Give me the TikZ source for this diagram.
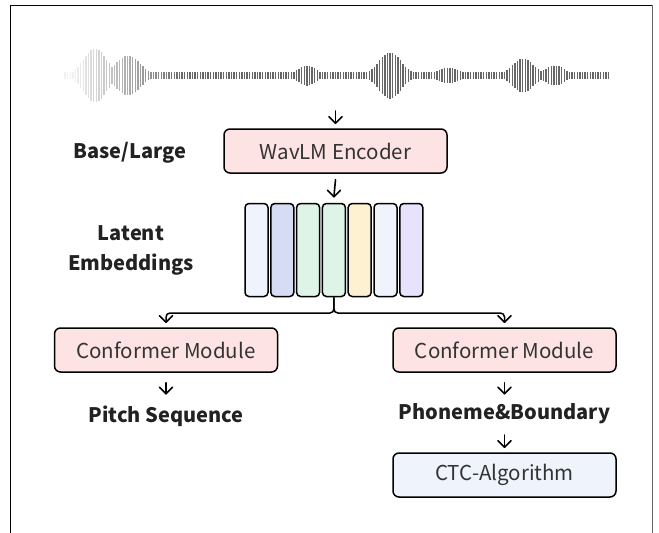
\documentclass[tikz,border=0pt]{standalone}
\usepackage{fontspec}
\setmainfont{Noto Sans CJK SC}
\usetikzlibrary{calc,positioning}
\definecolor{pinkfill}{HTML}{FDE3E3}
\definecolor{bluefill}{HTML}{EEF3FC}
\definecolor{barb}{HTML}{D6DCF4}
\definecolor{barg}{HTML}{DDF4E6}
\definecolor{bary}{HTML}{FEF1D1}
\definecolor{barp}{HTML}{E9E2FC}
\definecolor{txt}{HTML}{333333}
\definecolor{btxt}{HTML}{222222}
\definecolor{wave}{HTML}{404040}
\tikzset{
  box/.style={draw=black, line width=1.5pt, rounded corners=6pt, minimum width=223pt, minimum height=44pt, inner sep=0pt, font=\fontsize{20.5}{24}\selectfont, text=txt},
  bar/.style={draw=black, line width=1.5pt, rounded corners=4pt, minimum width=23pt, minimum height=93pt, inner sep=0pt},
  lbl/.style={font=\bfseries\fontsize{20}{30}\selectfont, text=btxt, align=center},
  shaft/.style={line width=1.6pt, line cap=round, line join=round},
  conn/.style={line width=1.5pt, rounded corners=4pt},
  frame/.style={line width=1pt}
}
\newcommand\vhead[1]{\draw[shaft] ($(#1)+(-6.5,-6.5)$) -- (#1) -- ($(#1)+(6.5,-6.5)$);}
\newcommand\varrow[2]{\draw[shaft] (#1) -- (#2); \vhead{#2}}
\begin{document}
\begin{tikzpicture}[x=1pt,y=-1pt]
\useasboundingbox (0,0) rectangle (659,533);
% frame
\draw[frame] (10,533) -- (10,5) -- (652,5);
\draw[frame, draw=black!60] (652,5) -- (652,533);
% waveform
\foreach \x in {65,67.6,...,611} {
  \pgfmathsetmacro{\a}{max(3.5, 27*exp(-((\x-95)/16)^2), 20*exp(-((\x-128)/17)^2), 10*exp(-((\x-307)/13)^2), 23*exp(-((\x-390)/16)^2), 8*exp(-((\x-448)/15)^2), 17*exp(-((\x-523)/15)^2), 10*exp(-((\x-555)/14)^2))}
  \pgfmathsetmacro{\op}{min(0.8, 0.08 + max(0,(\x-75))/110*0.72)}
  \draw[wave, line width=1.4pt, opacity=\op] (\x,75.5-\a) -- (\x,75.5+\a);
}
\coordinate (wavebot) at (335.5,111);
% nodes
\node[box, fill=pinkfill] (enc) at (335.5,151) {WavLM Encoder};
\node[lbl] (bl) at (130,153) {Base/Large};
\foreach \i/\c in {1/bluefill,2/barb,3/barg,4/barg,5/bary,6/bluefill,7/barp} {
  \node[bar, fill=\c] (b\i) at ({256.5+(\i-1)*25.8},250) {};
}
\node[lbl] (le) at (131,250) {Latent\\Embeddings};
\node[box, fill=pinkfill] (c1) at (166,350) {Conformer Module};
\node[box, fill=pinkfill] (c2) at (504.5,350) {Conformer Module};
\node[lbl] (ps) at (166,416) {Pitch Sequence};
\node[lbl] (pb) at (504.5,414) {Phoneme\&Boundary};
\node[box, fill=bluefill] (ctc) at (504.5,475) {CTC-Algorithm};
% connector end points
\coordinate (encin) at ($(enc.north)+(0,-5)$);
\coordinate (encout) at ($(enc.south)+(0,6)$);
\coordinate (embin) at ($(b4.north)+(0,-6)$);
\coordinate (c1in) at ($(c1.north)+(0,-5)$);
\coordinate (c2in) at ($(c2.north)+(0,-5)$);
\coordinate (c1out) at ($(c1.south)+(0,10)$);
\coordinate (c2out) at ($(c2.south)+(0,10)$);
\coordinate (psin) at ($(c1.south)+(0,21)$);
\coordinate (pbin) at ($(c2.south)+(0,21)$);
\coordinate (pbout) at ($(pb.center)+(0,21)$);
\coordinate (ctcin) at ($(ctc.north)+(0,-5)$);
% connectors
\varrow{wavebot}{encin}
\varrow{encout}{embin}
\draw[conn] (b4.south) -- (b4.south |- 0,313) -- (c1.north |- 0,313) -- (c1in);
\draw[conn] (b4.south) -- (b4.south |- 0,313) -- (c2.north |- 0,313) -- (c2in);
\vhead{c1in}
\vhead{c2in}
\varrow{c1out}{psin}
\varrow{c2out}{pbin}
\varrow{pbout}{ctcin}
\end{tikzpicture}
\end{document}
